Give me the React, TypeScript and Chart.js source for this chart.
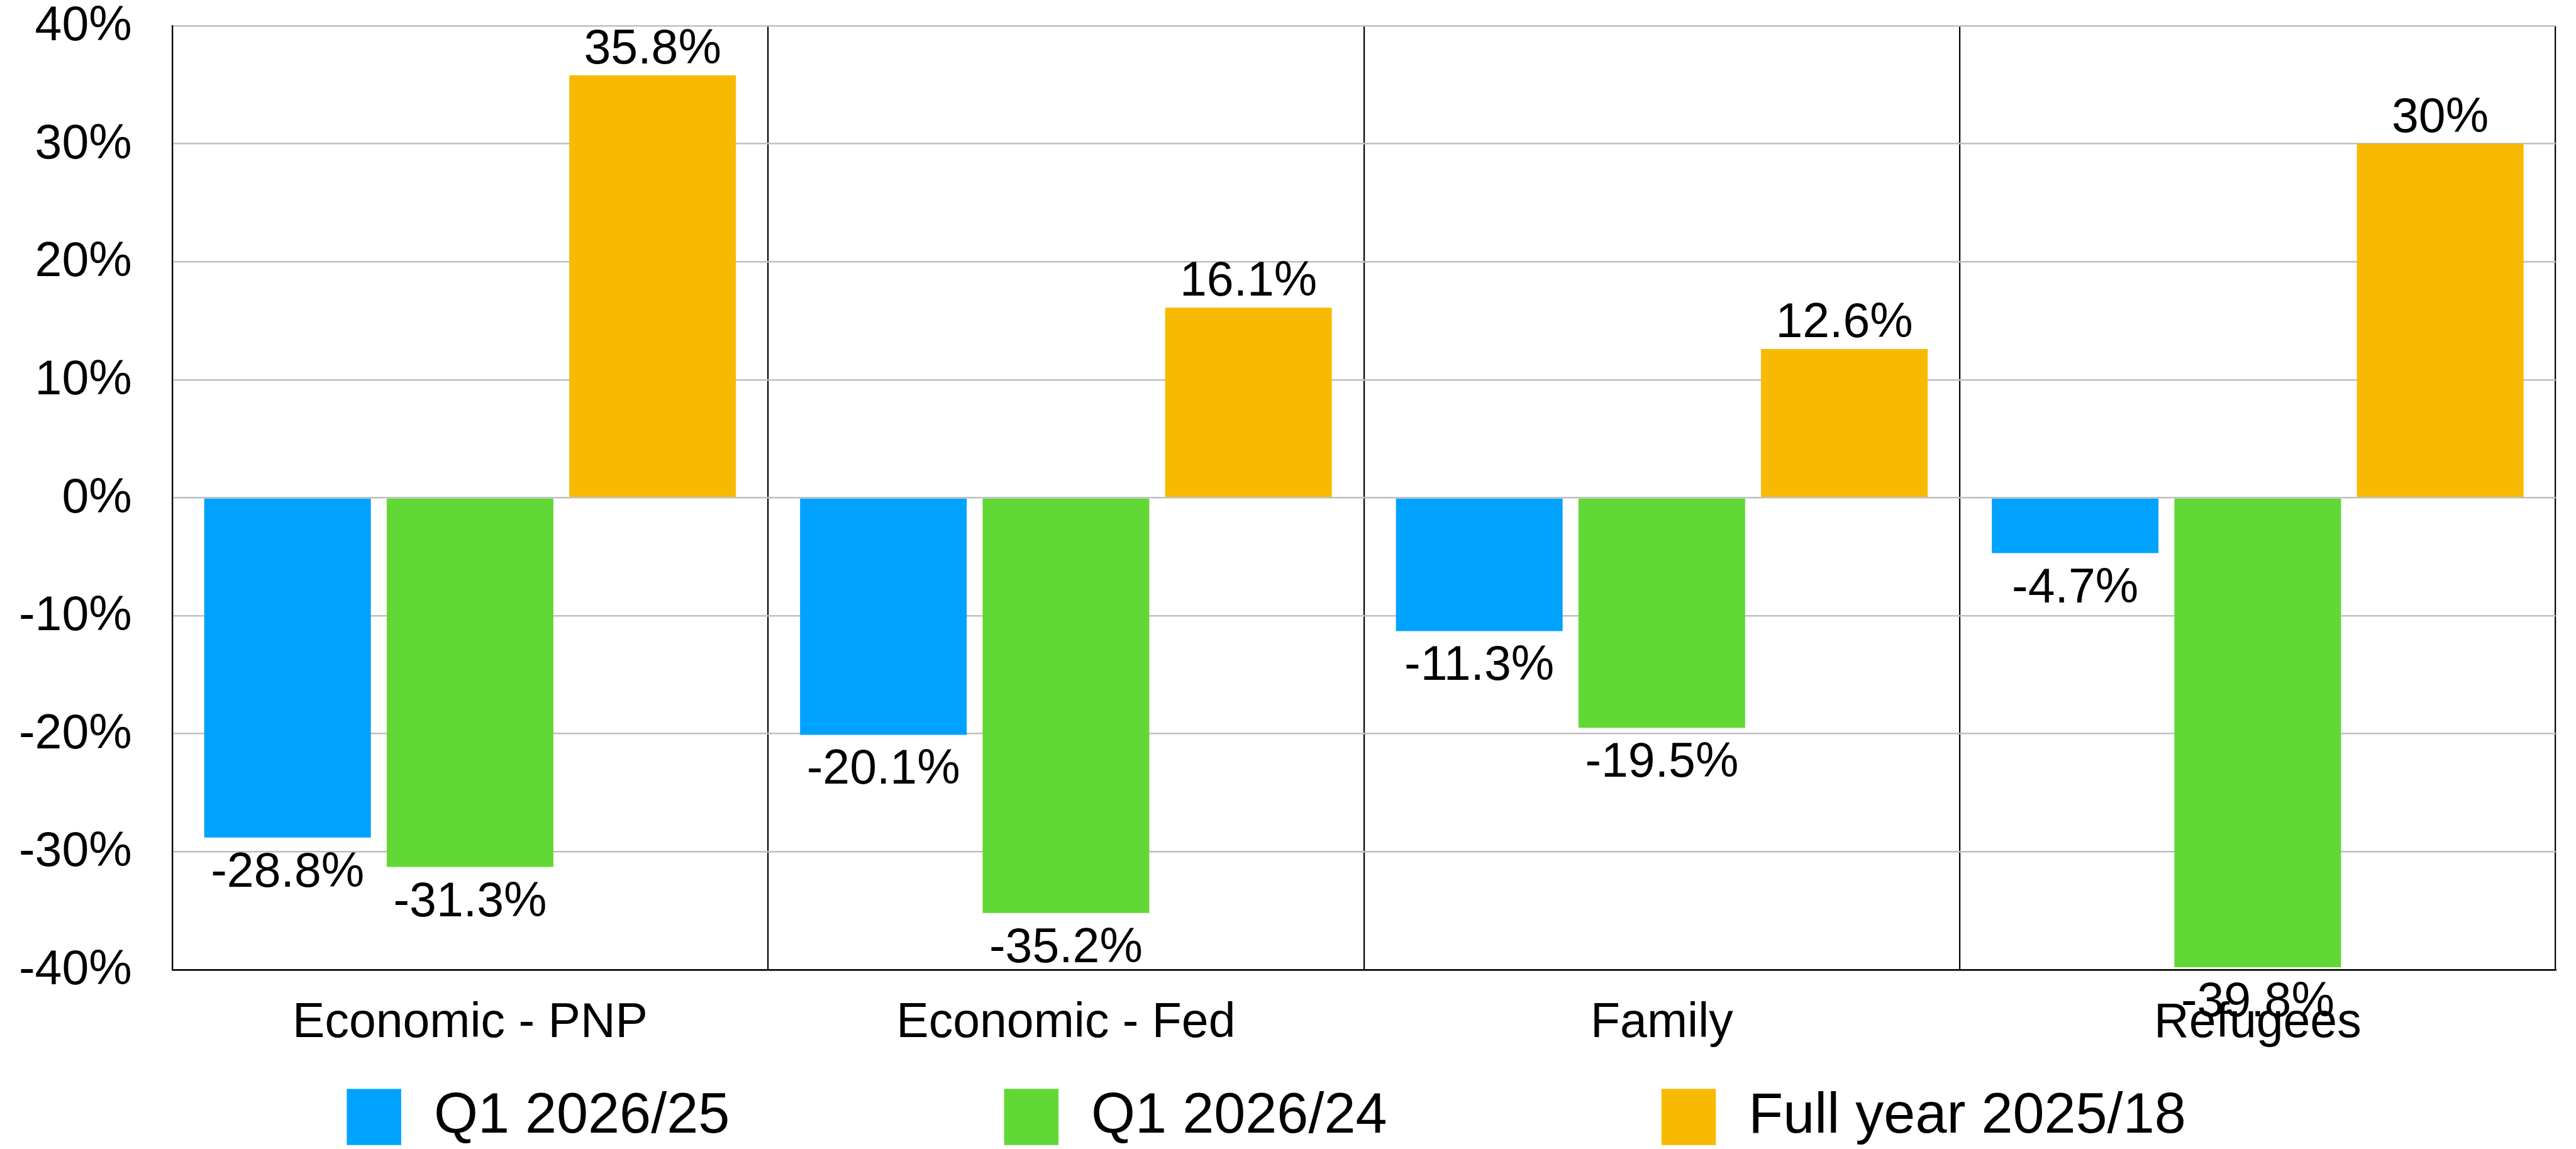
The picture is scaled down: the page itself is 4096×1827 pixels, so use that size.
import React, { useEffect, useRef } from 'react';
import { Chart, registerables } from 'chart.js';

Chart.register(...registerables);

// ---- data ----
const categories = ['Economic - PNP', 'Economic - Fed', 'Family', 'Refugees'];
const seriesNames = ['Q1 2026/25', 'Q1 2026/24', 'Full year 2025/18'];
const q1Vs25 = [-28.8, -20.1, -11.3, -4.7];
const q1Vs24 = [-31.3, -35.2, -19.5, -39.8];
const fullYearVs18 = [35.8, 16.1, 12.6, 30];
const yMin = -40;
const yMax = 40;
const yStep = 10;

// ---- style ----
const W = 4096;
const H = 1827;
const FONT = '"Liberation Sans", Arial, Helvetica, sans-serif';
const COLORS = ['#00A2FF', '#61D836', '#F8BA00'];
const GRID_GRAY = '#BFBFBF';
const LINE_BLACK = '#000000';

const valueLabels = {
  id: 'valueLabels',
  afterDatasetsDraw(chart: any) {
    const ctx = chart.ctx;
    ctx.save();
    ctx.font = `77px ${FONT}`;
    ctx.fillStyle = '#000';
    ctx.textAlign = 'center';
    ctx.textBaseline = 'alphabetic';
    chart.data.datasets.forEach((ds: any, di: number) => {
      const meta = chart.getDatasetMeta(di);
      meta.data.forEach((el: any, i: number) => {
        const v = ds.data[i];
        const txt = `${v}%`;
        const y = v >= 0 ? el.y - 19 : el.y + 78;
        ctx.fillText(txt, el.x, y);
      });
    });
    ctx.restore();
  },
};

const customLegend = {
  id: 'customLegend',
  afterDraw(chart: any) {
    const ctx = chart.ctx;
    ctx.save();
    ctx.font = `90px ${FONT}`;
    ctx.textAlign = 'left';
    ctx.textBaseline = 'middle';
    const boxW = 86.5;
    const boxH = 89.3;
    const gap = 52;
    const step = 1045.2;
    const boxTop = 1731.4;
    const textMid = 1776;
    const startX = 551.4;
    chart.data.datasets.forEach((ds: any, i: number) => {
      const x = startX + i * step;
      ctx.fillStyle = ds.backgroundColor;
      ctx.fillRect(x, boxTop, boxW, boxH);
      ctx.fillStyle = '#000';
      ctx.fillText(ds.label, x + boxW + gap, textMid);
    });
    ctx.restore();
  },
};

export default function App() {
  const ref = useRef<HTMLCanvasElement | null>(null);

  useEffect(() => {
    document.body.style.margin = '0';
    const canvas = ref.current;
    if (!canvas) return;
    const seriesValues = [q1Vs25, q1Vs24, fullYearVs18];
    const chart = new Chart(canvas, {
      type: 'bar',
      data: {
        labels: categories,
        datasets: seriesNames.map((name, i) => ({
          label: name,
          data: seriesValues[i],
          backgroundColor: COLORS[i],
          borderWidth: 0,
          categoryPercentage: 0.919,
          barPercentage: 0.913,
        })),
      },
      options: {
        responsive: false,
        animation: false,
        devicePixelRatio: 1,
        layout: { padding: { left: 0, right: 32.4, top: 41, bottom: 0 } },
        plugins: {
          legend: { display: false },
          tooltip: { enabled: false },
          title: { display: false },
        },
        scales: {
          x: {
            grid: {
              display: true,
              offset: true,
              color: LINE_BLACK,
              lineWidth: 2.2,
              drawTicks: false,
            },
            border: { display: true, color: LINE_BLACK, width: 2.2 },
            ticks: {
              color: '#000',
              padding: 47,
              font: { family: FONT, size: 77, lineHeight: 1 },
              maxRotation: 0,
              autoSkip: false,
            },
            afterFit: (s: any) => {
              s.height = H - 1541.8;
              s.paddingLeft = 0;
              s.paddingRight = 0;
            },
          },
          y: {
            min: yMin,
            max: yMax,
            grid: {
              color: (c: any) => (c.tick && c.tick.value === yMin ? LINE_BLACK : GRID_GRAY),
              lineWidth: 2.6,
              drawTicks: false,
            },
            border: { display: true, color: LINE_BLACK, width: 2.2 },
            ticks: {
              stepSize: yStep,
              color: '#000',
              padding: 64,
              labelOffset: 2,
              font: { family: FONT, size: 77, lineHeight: 1 },
              callback: (v: any) => `${v}%`,
            },
            afterFit: (s: any) => {
              s.width = 273.7;
              s.paddingTop = 0;
              s.paddingBottom = 0;
            },
          },
        },
      },
      plugins: [valueLabels, customLegend],
    });
    return () => chart.destroy();
  }, []);

  return (
    <div style={{ position: 'fixed', left: 0, top: 0, width: W, height: H, background: '#fff' }}>
      <canvas ref={ref} width={W} height={H} style={{ display: 'block', width: W, height: H }} />
    </div>
  );
}
